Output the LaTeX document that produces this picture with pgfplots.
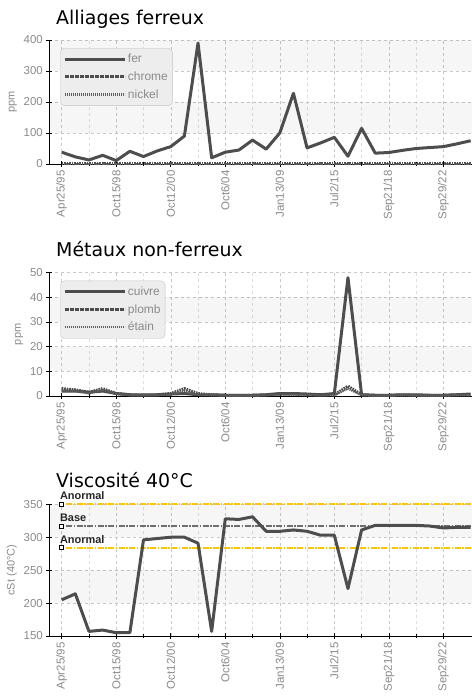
\documentclass[border=0pt]{standalone}
\usepackage{pgfplots}
\pgfplotsset{compat=1.18}
\usepackage{pgfplotstable}
\usepackage{fontspec}
\setmainfont{Liberation Sans}
\newfontfamily\titlefont{DejaVu Sans}

\definecolor{serie}{HTML}{4D4D4D}
\definecolor{ticktxt}{HTML}{8A8A8A}
\definecolor{gridc}{HTML}{C8C8C8}
\definecolor{legfill}{HTML}{EDEDED}
\definecolor{legbord}{HTML}{C4C4C4}
\definecolor{jaune}{HTML}{FFC400}
\definecolor{basec}{HTML}{6E6E6E}

\newcommand\tickfont{\fontsize{11.5}{12}\selectfont}
\newcommand\titre{\titlefont\fontsize{19}{22}\selectfont}

% i = échantillon (axe catégoriel)
\pgfplotstableread{
i fer chrome nickel
0 38 2 1
1 23 2 1
2 13 2 1
3 28 2 1
4 11 2 1
5 41 2 1
6 24 2 1
7 42 2 1
8 56 2 1
9 90 2 1
10 390 2 1
11 20 2 1
12 38 2 1
13 45 2 1
14 77 2 1
15 48 2 1
16 100 2 1
17 228 2 1
18 52 2 1
19 68 2 1
20 86 2 1
21 25 2 1
22 115 2 1
23 35 2 1
24 37 2 1
25 44 2 1
26 50 2 1
27 53 2 1
28 56 2 1
29 65 2 1
30 75 2 1
}\ferreux

\pgfplotstableread{
i cuivre plomb etain
0 2 3 2
1 2 2.5 2
2 1.5 1.5 1
3 2 3 2.5
4 1 1 0.8
5 0.5 0.5 0.3
6 0.5 0.3 0.3
7 0.5 0.5 0.3
8 0.8 1 0.5
9 1 3 2
10 0.5 1 0.5
11 0.5 0.5 0.3
12 0.3 0.3 0.2
13 0.3 0.3 0.2
14 0.3 0.3 0.2
15 0.5 0.5 0.3
16 1 0.8 0.5
17 1 0.8 0.5
18 0.8 0.5 0.3
19 0.5 0.3 0.2
20 1 0.5 0.3
21 48 4 3
22 0.5 0.5 0.3
23 0.3 0.3 0.2
24 0.3 0.3 0.2
25 0.5 0.5 0.3
26 0.5 0.3 0.2
27 0.3 0.3 0.2
28 0.3 0.3 0.2
29 0.5 0.5 0.3
30 0.8 0.5 0.3
}\nonferreux

\pgfplotstableread{
i visc
0 205
1 214
2 157
3 159
4 155
5 155
6 296
7 298
8 300
9 300
10 291
11 157
12 328
13 327
14 331
15 309
16 309
17 311
18 309
19 303
20 303
21 222
22 311
23 318
24 318
25 318
26 318
27 317
28 314
29 315
30 315
}\visco

\tikzset{
  band/.style={draw=none, fill=black, fill opacity=0.035},
  ligne/.style={serie, line width=3bp, line join=round},
  pointille/.style={serie, line width=3bp, dash pattern=on 1.6bp off 0.9bp},
  fin/.style={serie!90, line width=2.2bp, dash pattern=on 1.2bp off 0.8bp},
  seuil/.style={line width=2.4bp, dash pattern=on 6bp off 1.5bp on 1.5bp off 1.5bp},
}

\pgfplotsset{
  chart/.style={
    scale only axis, width=422.7bp, anchor=south west,
    xmin=-0.91, xmax=30.1,
    axis x line*=bottom, axis y line*=left,
    axis line style={black, line width=0.8bp},
    xtick={0,4,...,28},
    xticklabels={Apr25/95,Oct15/98,Oct12/00,Oct6/04,Jan13/09,Jul2/15,Sep21/18,Sep29/22},
    minor x tick num=1,
    xticklabel style={rotate=90, anchor=east, font=\tickfont, text=ticktxt},
    yticklabel style={font=\tickfont, text=ticktxt},
    ylabel style={font=\fontsize{11}{12}\selectfont, text=ticktxt},
    /pgf/number format/assume math mode=true,
    tick align=center, major tick length=6bp, minor tick length=4bp,
    tick style={black, line width=0.6bp},
    grid=both,
    major grid style={dashed, gridc, line width=0.5bp},
    minor grid style={dashed, gridc!60, line width=0.5bp},
    clip=false,
    legend cell align=left,
    legend image code/.code={\draw[##1] (0bp,0bp) -- (60bp,0bp);},
    legend style={at={(0.026,0.935)}, anchor=north west,
      draw=legbord, fill=legfill, rounded corners=4bp,
      font=\fontsize{12}{13}\selectfont, text=ticktxt,
      inner xsep=3bp, inner ysep=4bp, row sep=3.5bp,
      nodes={inner xsep=1.5bp}},
  },
}

\begin{document}
\begin{tikzpicture}[x=1bp,y=1bp]
\useasboundingbox (0,0) rectangle (472,697);

% --- Alliages ferreux
\node[anchor=base west, inner sep=0pt] at (56,672) {\titre Alliages ferreux};
\begin{axis}[chart, at={(49.3bp,533bp)}, height=124bp,
    ymin=0, ymax=400, ytick={0,100,...,400}, ylabel={ppm}]
  \fill[band] (axis cs:-0.91,100) rectangle (axis cs:30.1,200);
  \fill[band] (axis cs:-0.91,300) rectangle (axis cs:30.1,400);
  \addplot[ligne] table[x=i, y=fer] {\ferreux};
  \addplot[pointille] table[x=i, y=chrome] {\ferreux};
  \addplot[fin] table[x=i, y=nickel] {\ferreux};
  \legend{fer\hspace{28bp}, chrome, nickel}
\end{axis}

% --- Métaux non-ferreux
\node[anchor=base west, inner sep=0pt] at (56,440) {\titre Métaux non-ferreux};
\begin{axis}[chart, at={(49.3bp,301bp)}, height=123.3bp,
    ymin=0, ymax=50, ytick={0,10,...,50}, ylabel={ppm}]
  \fill[band] (axis cs:-0.91,10) rectangle (axis cs:30.1,20);
  \fill[band] (axis cs:-0.91,30) rectangle (axis cs:30.1,40);
  \addplot[ligne] table[x=i, y=cuivre] {\nonferreux};
  \addplot[pointille] table[x=i, y=plomb] {\nonferreux};
  \addplot[fin] table[x=i, y=etain] {\nonferreux};
  \legend{cuivre, plomb, étain}
\end{axis}

% --- Viscosité
\node[anchor=base west, inner sep=0pt] at (56,209) {\titre Viscosité 40°C};
\begin{axis}[chart, at={(49.3bp,61bp)}, height=131.7bp,
    ymin=150, ymax=350, ytick={150,200,...,350}, ylabel={cSt (40°C)}]
  \fill[band] (axis cs:-0.91,200) rectangle (axis cs:30.1,250);
  \fill[band] (axis cs:-0.91,300) rectangle (axis cs:30.1,350);
  \addplot[seuil, jaune, forget plot] coordinates {(0.35,350) (30.1,350)};
  \addplot[seuil, basec, forget plot] coordinates {(0.35,317) (30.1,317)};
  \addplot[seuil, jaune, forget plot] coordinates {(0.35,284) (30.1,284)};
  \addplot[ligne] table[x=i, y=visc] {\visco};
  \addplot[only marks, mark=square*, mark size=2bp,
    mark options={fill=white, draw=black, line width=0.7bp},
    point meta=explicit symbolic, nodes near coords,
    every node near coord/.append style={anchor=base west, inner sep=0pt,
      xshift=-2bp, yshift=4.5bp, font=\bfseries\fontsize{11}{12}\selectfont,
      text=black!85}]
    coordinates {(0,350) [Anormal] (0,317) [Base] (0,284) [Anormal]};
\end{axis}
\end{tikzpicture}
\end{document}
